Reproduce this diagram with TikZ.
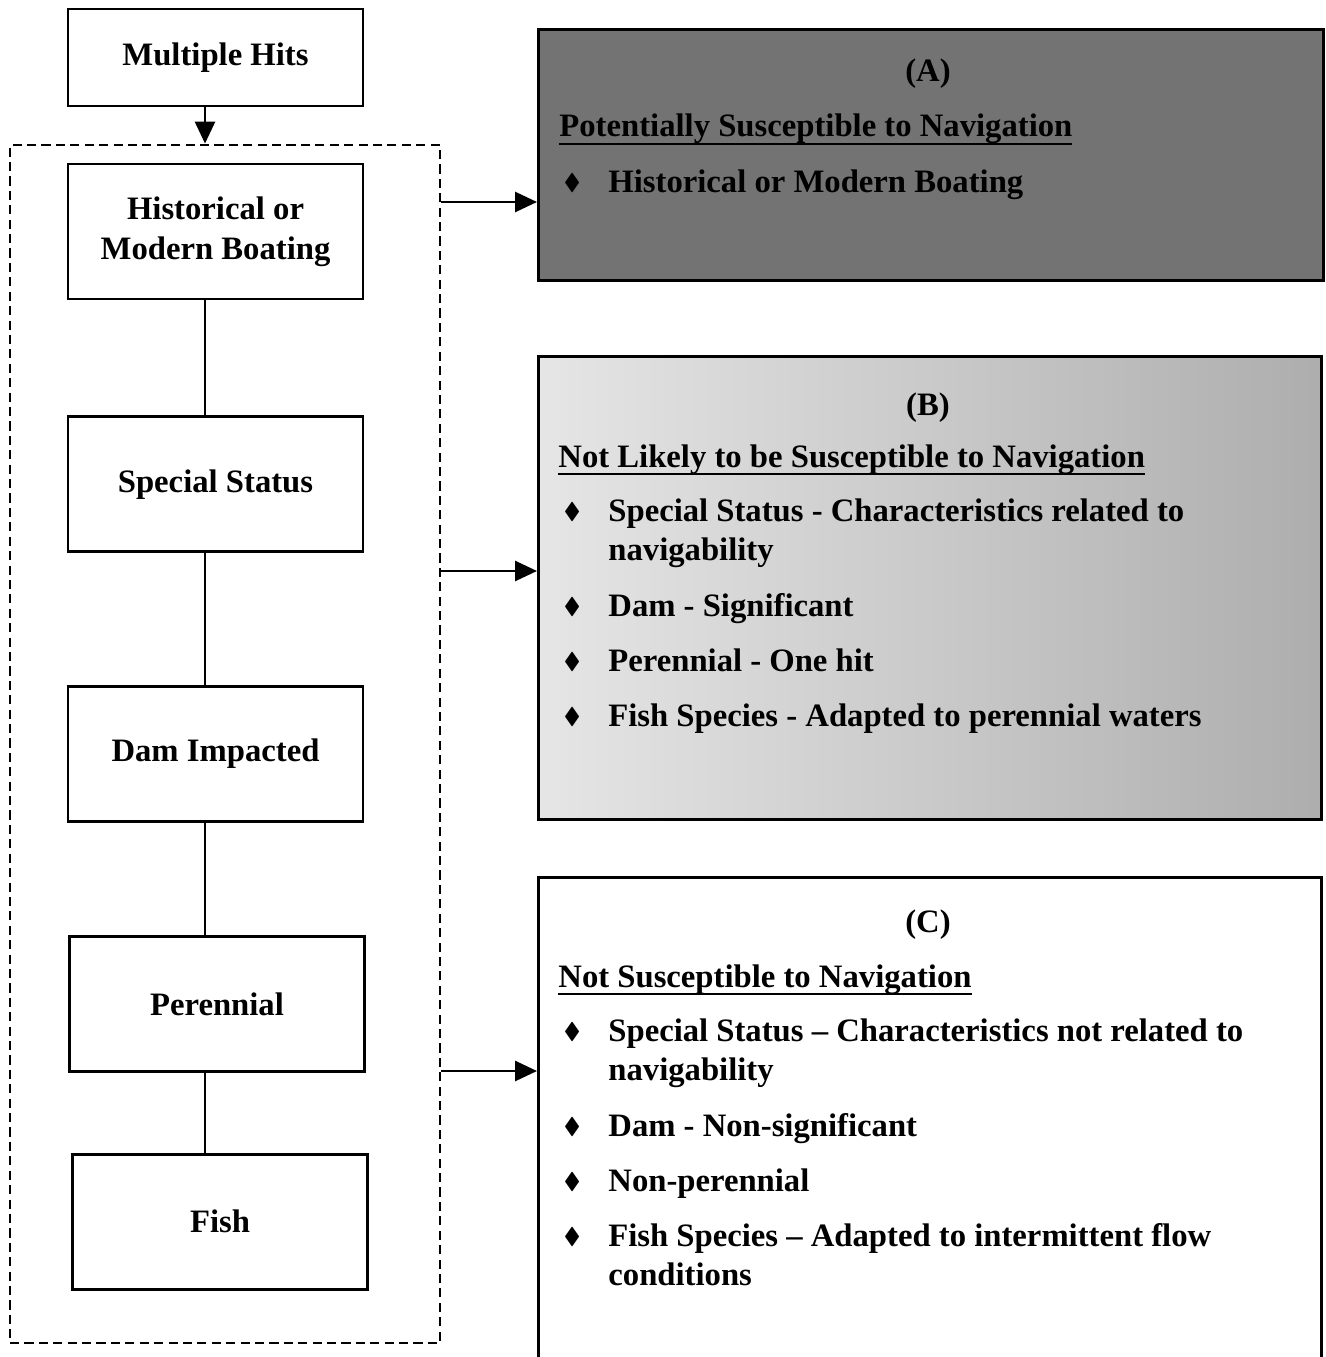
\documentclass[tikz,border=0pt]{standalone}
\usepackage{fontspec}
\setmainfont{Liberation Serif}
\usepackage{amssymb}
\usetikzlibrary{arrows.meta,positioning}

\newcommand{\dia}{\raisebox{0.2ex}{$\scriptstyle\blacklozenge$}}
\newcommand{\bul}[1]{\makebox[0.45cm][l]{\dia}\begin{tabular}[t]{@{}l@{}}#1\end{tabular}}
\newcommand{\heading}[1]{\setbox0\hbox{#1}\rlap{\rule[-2.4pt]{\wd0}{0.7pt}}\box0}

\begin{document}
\begin{tikzpicture}[>={Triangle[length=2.2mm,width=2mm]},thick,
                    font=\bfseries\fontsize{9.3}{11.3}\selectfont]
  \tikzstyle{stage}=[draw,thick,minimum width=2.95cm,minimum height=1.35cm,align=center]
  \tikzstyle{panel}=[draw,thick,anchor=north west,inner sep=0pt]
  \tikzstyle{line}=[anchor=base west,inner sep=0pt]

  \useasboundingbox (0,0) rectangle (13.26,-13.57);

  % left column
  \node[stage, minimum height=0.97cm] (hits) at (2.155,-0.575) {Multiple Hits};
  \node[stage] (boating) at (2.155,-2.315) {Historical or\\Modern Boating};
  \node[stage] (status) [below=1.15cm of boating] {Special Status};
  \node[stage] (dam) [below=1.32cm of status] {Dam Impacted};
  \node[stage] (perennial) [below=1.12cm of dam, xshift=0.015cm] {Perennial};
  \node[stage] (fish) [below=0.80cm of perennial, xshift=0.03cm] {Fish};
  \node[draw, dashed, dash pattern=on 2.6pt off 1.5pt, minimum width=4.30cm,
        minimum height=11.98cm, inner sep=0pt] (group) at (2.25,-7.44) {};

  \coordinate (spine) at (2.05,0);
  \draw[->] (hits.south -| spine) -- (group.north -| spine);
  \draw (boating.south -| spine) -- (status.north -| spine);
  \draw (status.south -| spine) -- (dam.north -| spine);
  \draw (dam.south -| spine) -- (perennial.north -| spine);
  \draw (perennial.south -| spine) -- (fish.north -| spine);

  % right panels
  \node[panel, fill=black!55, minimum width=7.85cm, minimum height=2.51cm] (panelA) at (5.37,-0.28) {};
  \node[panel, left color=black!10, right color=black!32, minimum width=7.83cm, minimum height=4.63cm] (panelB) at (5.37,-3.55) {};
  \node[panel, fill=white, minimum width=7.83cm, minimum height=4.84cm] (panelC) at (5.37,-8.76) {};

  \coordinate (toA) at (group.east |- 0,-2.02);
  \coordinate (toB) at (group.east |- 0,-5.71);
  \coordinate (toC) at (group.east |- 0,-10.71);
  \draw[->] (toA) -- (toA -| panelA.west);
  \draw[->] (toB) -- (toB -| panelB.west);
  \draw[->] (toC) -- (toC -| panelC.west);

  % panel A
  \node[anchor=base, inner sep=0pt] (capA) at (9.28,-0.82) {(A)};
  \node[line] (headA) at (5.58,-1.37) {\heading{Potentially Susceptible to Navigation}};
  \node[line] (a1) at (5.62,-1.92) {\bul{Historical or Modern Boating}};

  % panel B
  \node[anchor=base, inner sep=0pt] (capB) at (9.28,-4.15) {(B)};
  \node[line] (headB) at (5.57,-4.67) {\heading{Not Likely to be Susceptible to Navigation}};
  \node[line] (b1) at (5.62,-5.21) {\bul{Special Status - Characteristics related to\\navigability}};
  \node[line] (b2) at (5.62,-6.16) {\bul{Dam - Significant}};
  \node[line] (b3) at (5.62,-6.71) {\bul{Perennial - One hit}};
  \node[line] (b4) at (5.62,-7.26) {\bul{Fish Species - Adapted to perennial waters}};

  % panel C
  \node[anchor=base, inner sep=0pt] (capC) at (9.28,-9.32) {(C)};
  \node[line] (headC) at (5.57,-9.87) {\heading{Not Susceptible to Navigation}};
  \node[line] (c1) at (5.62,-10.41) {\bul{Special Status -- Characteristics not related to\\navigability}};
  \node[line] (c2) at (5.62,-11.36) {\bul{Dam - Non-significant}};
  \node[line] (c3) at (5.62,-11.91) {\bul{Non-perennial}};
  \node[line] (c4) at (5.62,-12.46) {\bul{Fish Species -- Adapted to intermittent flow\\conditions}};
\end{tikzpicture}
\end{document}
